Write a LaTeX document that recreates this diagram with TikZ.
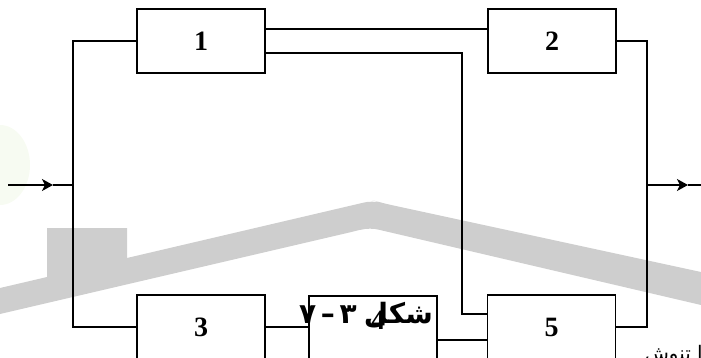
\documentclass[tikz,border=0pt]{standalone}
\usepackage{fontspec}
\setmainfont{Liberation Serif}
\newfontfamily\arabicfont[Script=Arabic]{DejaVu Sans}
\TeXXeTstate=1
\usetikzlibrary{arrows.meta}
\definecolor{wmgray}{RGB}{206,206,206}
\definecolor{wmgreen}{RGB}{238,247,226}
\tikzset{
  blk/.style={draw, line width=1.2pt, minimum width=128pt, minimum height=64pt, inner sep=0pt, font=\fontsize{28}{28}\selectfont\bfseries},
  wire/.style={line width=1.2pt},
  arr/.style={line width=1.2pt, -{Stealth[length=11pt,width=12pt,inset=3pt]}},
  lbl/.style={inner sep=0pt, font=\fontsize{28}{28}\selectfont\bfseries},
  captext/.style={inner sep=0pt, font=\arabicfont\fontsize{28}{28}\selectfont\bfseries},
  straytext/.style={inner sep=0pt, font=\arabicfont\fontsize{20}{20}\selectfont}
}
\begin{document}
\begin{tikzpicture}[x=1pt,y=-1pt]
\useasboundingbox (0,0) rectangle (701,358);
\clip (0,0) rectangle (701,358);
% watermark
\fill[wmgreen, opacity=0.45] (0,165) ellipse (30pt and 40pt);
\fill[wmgray] (0,288) -- (47,277) -- (47,228) -- (127,228) -- (127,258) -- (362,203) [rounded corners=10pt] -- (372,200) -- (382,203) [sharp corners] -- (701,272) -- (701,305) -- (380,230) [rounded corners=10pt] -- (370,227) -- (360,230) [sharp corners] -- (0,314) -- cycle;
% boxes
\node[blk] (b1) at (201,41) {1};
\node[blk] (b2) at (552,41) {2};
\node[blk] (b3) at (201,327) {3};
\node[blk] (b4) at (373,328) {};
\node[blk] (b5) at (551.5,327) {5};
\node[lbl] (n4) at (378,320) {4};
% coordinates
\coordinate (inS) at (8,185);
\coordinate (inT) at (53,185);
\coordinate (jL) at (73,185);
\coordinate (jR) at (647,185);
\coordinate (outT) at (688,185);
\coordinate (outE) at (701,185);
\coordinate (c1) at (462,200);
% connectors
\draw[arr] (inS) -- (inT);
\draw[wire] (inT) -- (jL);
\draw[wire] (b1.west) -| (jL) |- (b3.west);
\draw[wire] ([yshift=12pt]b1.east) -- ([yshift=12pt]b2.west);
\draw[wire] ([yshift=-12pt]b1.east) -| (c1) |- ([yshift=13pt]b5.west);
\draw[wire] (b2.east) -| (jR) |- (b5.east);
\draw[arr] (jR) -- (outT);
\draw[wire] (outT) -- (outE);
\draw[wire] (b3.east) -- (b3.east -| b4.west);
\draw[wire] ([yshift=-12pt]b4.east) -- ([yshift=-12pt]b4.east -| b5.west);
% caption overlay
\node[captext, anchor=east] (capw) at (433,315) {\beginR شکل\endR};
\node[captext, anchor=west] (capn) at (299,315) {۷\,–\,۳};
% stray text at the bottom edge
\node[straytext, anchor=north east] (stray) at (703,345) {\beginR ا تنوش\endR};
\end{tikzpicture}
\end{document}
